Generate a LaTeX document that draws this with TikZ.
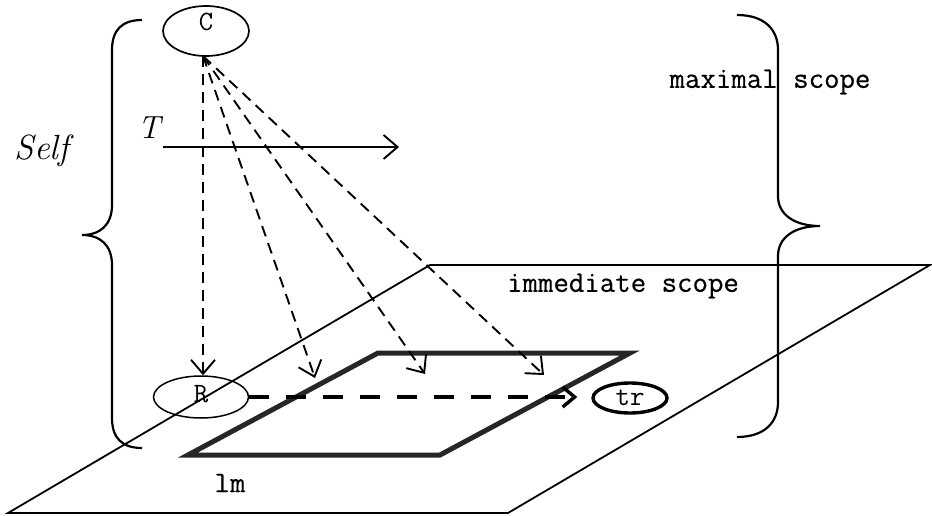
\documentclass[tikz,border=0pt]{standalone}
\usepackage{fontspec}
\usetikzlibrary{arrows.meta,shapes.geometric}
\newfontfamily\heavymono{Latin Modern Mono}[FakeBold=0.4]
\newcommand{\monolbl}{\ttfamily\fontsize{28}{32}\selectfont}
\newcommand{\monotxt}{\heavymono\fontsize{30}{34}\selectfont}
\begin{document}
\begin{tikzpicture}[x=1pt,y=-1pt,
  ell/.style={ellipse,draw,inner sep=0pt,line width=1.7pt},
  lbl/.style={font=\monolbl},
  txt/.style={font=\monotxt},
  barb/.style={-{Straight Barb[length=14pt,width=24pt,line width=1.9pt]}},
  thindash/.style={barb,line width=1.9pt,dash pattern=on 11pt off 7pt},
  thickdash/.style={line width=3.4pt,dash pattern=on 20pt off 17pt,
    -{Straight Barb[length=12pt,width=20pt,line width=3.4pt]}},
  brace/.style={line width=2.2pt},
  plane/.style={line width=1.8pt},
  lmbox/.style={line width=5pt,draw=black!85,line join=miter}]
\useasboundingbox (0,0) rectangle (932,516);

% planes
\draw[plane] (8,513) -- (430,265) -- (930,265) -- (508,513) -- cycle;
\draw[lmbox] (188,455) -- (378,353) -- (630,353) -- (440,455) -- cycle;

% braces
\draw[brace] (142,20) .. controls (122,20) and (112,30) .. (112,50) -- (112,205)
  .. controls (112,225) and (100,235) .. (82,235)
  .. controls (100,235) and (112,245) .. (112,265) -- (112,418)
  .. controls (112,438) and (122,448) .. (142,448);
\draw[brace] (737,15) .. controls (765,15) and (778,30) .. (778,50) -- (778,196)
  .. controls (778,215) and (795,226) .. (820,226)
  .. controls (795,226) and (778,237) .. (778,256) -- (778,402)
  .. controls (778,422) and (765,437) .. (737,437);

% nodes
\node[ell,minimum width=86pt,minimum height=50pt,
  label={[lbl,yshift=9pt]center:C}] (C) at (206,31) {};
\node[ell,minimum width=95pt,minimum height=42pt,line width=1.5pt,
  label={[lbl,yshift=3pt]center:R}] (R) at (201,397) {};
\node[ell,line width=3.4pt,minimum width=74pt,minimum height=30pt,font=\monolbl] (tr) at (630,398) {tr};

\node[txt] (maxs) at (770,82) {maximal scope};
\node[txt] (imms) at (623,286) {immediate scope};
\node[txt] (lm) at (230,483) {lm};
\node[font=\fontsize{35}{38}\selectfont\itshape] (self) at (42,151) {Self};
\node[font=\fontsize{32}{35}\selectfont\itshape] (T) at (149,128) {T};

% T arrow
\coordinate (Ts) at (163,147);
\coordinate (Te) at (399,147);
\draw[barb,line width=1.9pt] (Ts) -- (Te);

% dashed arrows from C
\coordinate (src) at (203,56);
\coordinate (t2) at (315,378);
\coordinate (t3) at (425,374);
\coordinate (t4) at (544,375);
\draw[thindash] (src) -- (src |- R.north);
\draw[thindash] (src) -- (t2);
\draw[thindash] (src) -- (t3);
\draw[thindash] (src) -- (t4);

% thick dashed arrow R -> tr
\draw[thickdash,shorten >=14pt] (R.east) -- (R.east -| tr.west);
\end{tikzpicture}
\end{document}
